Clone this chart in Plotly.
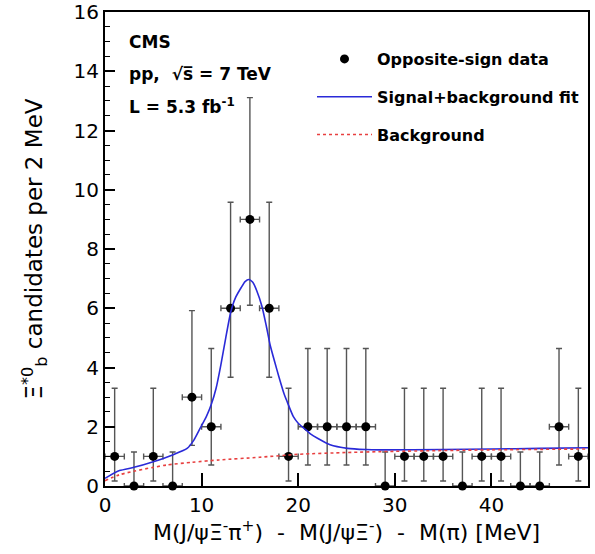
import plotly.graph_objects as go

# ---- data ----
bin_centers = [1, 3, 5, 7, 9, 11, 13, 15, 17, 19, 21, 23, 25, 27, 29, 31, 33, 35, 37, 39, 41, 43, 45, 47, 49]
counts = [1, 0, 1, 0, 3, 2, 6, 9, 6, 1, 2, 2, 2, 2, 0, 1, 1, 1, 0, 1, 1, 0, 0, 2, 1]
err_up = [2.30, 1.15, 2.30, 1.15, 2.92, 2.64, 3.58, 4.11, 3.58, 2.30, 2.64, 2.64, 2.64, 2.64, 1.15,
          2.30, 2.30, 2.30, 1.15, 2.30, 2.30, 1.15, 1.15, 2.64, 2.30]
err_down = [0.83, 0.0, 0.83, 0.0, 1.63, 1.29, 2.33, 2.90, 2.33, 0.83, 1.29, 1.29, 1.29, 1.29, 0.0,
            0.83, 0.83, 0.83, 0.0, 0.83, 0.83, 0.0, 0.0, 1.29, 0.83]
bin_half_width = 1.0

fit_x = [0, 1.5, 3, 5, 7, 8.5, 9.2, 9.85, 10.5, 11.0, 11.5, 12.0, 12.5, 13.0, 13.5, 14.1, 14.5, 14.9,
         15.3, 15.7, 16.25, 16.7, 17.1, 17.6, 18.0, 18.5, 18.85, 19.5, 20.0, 20.6, 21.3, 22.0, 23.3,
         25.1, 27.0, 28.5, 35, 40, 45, 50]
fit_y = [0.26, 0.52, 0.63, 0.82, 1.05, 1.27, 1.55, 1.95, 2.35, 2.75, 3.3, 4.1, 5.0, 5.85, 6.35, 6.7, 6.9, 6.97,
         6.88, 6.6, 6.06, 5.4, 4.75, 4.15, 3.69, 3.15, 2.85, 2.34, 2.12, 1.95, 1.75, 1.61, 1.39,
         1.27, 1.23, 1.22, 1.23, 1.25, 1.27, 1.29]

bg_x = [0, 1.5, 3, 5, 6.4, 9, 11.8, 16, 20, 25, 30, 40, 50]
bg_y = [0.18, 0.38, 0.5, 0.63, 0.71, 0.8, 0.88, 0.97, 1.07, 1.13, 1.17, 1.22, 1.25]

x_ticks = [0, 10, 20, 30, 40, 50]
y_ticks = [0, 2, 4, 6, 8, 10, 12, 14, 16]

FONT = "DejaVu Sans"
W, H = 595, 554
PL, PR, PT, PB = 105, 588, 12, 486          # plot area in window pixels
ML, MR, MT, MB = PL, W - PR, PT, H - PB
NB = "\u00a0"

fig = go.Figure()

fig.add_trace(go.Scatter(
    x=bin_centers, y=counts, mode="markers",
    name="<b>Opposite-sign data</b>",
    marker=dict(color="black", size=9),
    error_y=dict(type="data", symmetric=False, array=err_up, arrayminus=err_down,
                 color="#555555", thickness=1.4, width=3),
    error_x=dict(type="constant", value=bin_half_width, color="#555555", thickness=1.4, width=3),
    cliponaxis=False, legendgroup="a",
))
fig.add_trace(go.Scatter(
    x=fit_x, y=fit_y, mode="lines", name="<b>Signal+background fit</b>",
    line=dict(color="#2a2ad8", width=1.6, shape="spline", smoothing=0.5),
    legendgroup="b",
))
fig.add_trace(go.Scatter(
    x=bg_x, y=bg_y, mode="lines", name="<b>Background</b>",
    line=dict(color="#e84040", width=1.6, dash="dot", shape="spline", smoothing=0.7),
    legendgroup="c",
))

def px2paper_x(px):
    return (px - PL) / (PR - PL)

def px2paper_y(py):
    return (PB - py) / (PB - PT)

for txt, py in [("<b>CMS</b>", 42), ("<b>pp,  √s̅ = 7 TeV</b>", 74), ("<b>L = 5.3 fb<sup>-1</sup></b>", 106)]:
    fig.add_annotation(text=txt, xref="paper", yref="paper", x=px2paper_x(127), y=px2paper_y(py),
                       xanchor="left", yanchor="middle", showarrow=False,
                       font=dict(family=FONT, size=17, color="black"))

xtitle = ("M(J/ψΞ<sup>-</sup>π<sup>+</sup>)" + NB * 2 + "-" + NB * 2 + "M(J/ψΞ<sup>-</sup>)" + NB * 2 + "-"
          + NB * 2 + "M(π)" + NB + "[MeV]")

fig.update_layout(
    width=W, height=H,
    margin=dict(l=ML, r=MR, t=MT, b=MB, autoexpand=False),
    paper_bgcolor="white", plot_bgcolor="white",
    font=dict(family=FONT, color="black"),
    legend=dict(x=px2paper_x(312), y=px2paper_y(42), xanchor="left", yanchor="top",
                font=dict(family=FONT, size=16, color="black"), itemwidth=55,
                bgcolor="rgba(0,0,0,0)", traceorder="grouped", tracegroupgap=14),
    xaxis=dict(range=[0, 50], tickvals=x_ticks, ticktext=[str(v) for v in x_ticks],
               ticks="inside", ticklen=13, tickwidth=1.6, tickcolor="black",
               showline=True, linecolor="black", linewidth=2, mirror=True,
               showgrid=False, zeroline=False, automargin=False,
               tickfont=dict(family=FONT, size=20, color="black"),
               title=dict(text=xtitle, font=dict(family=FONT, size=22, color="black"), standoff=4)),
    yaxis=dict(range=[0, 16], tickvals=y_ticks, ticktext=[str(v) for v in y_ticks],
               ticks="inside", ticklen=10, tickwidth=1.6, tickcolor="black",
               minor=dict(dtick=0.5, ticks="inside", ticklen=5, tickwidth=1.2, tickcolor="black"),
               showline=True, linecolor="black", linewidth=2, mirror=True,
               showgrid=False, zeroline=False, automargin=False,
               tickfont=dict(family=FONT, size=20, color="black"),
               title=dict(text="Ξ<sup>*0</sup><sub>b</sub> candidates per 2 MeV",
                          font=dict(family=FONT, size=23, color="black"), standoff=24)),
)

fig.write_html("out.html", config={"displayModeBar": False},
               post_script="document.body.style.margin='0';document.body.style.overflow='hidden';")
